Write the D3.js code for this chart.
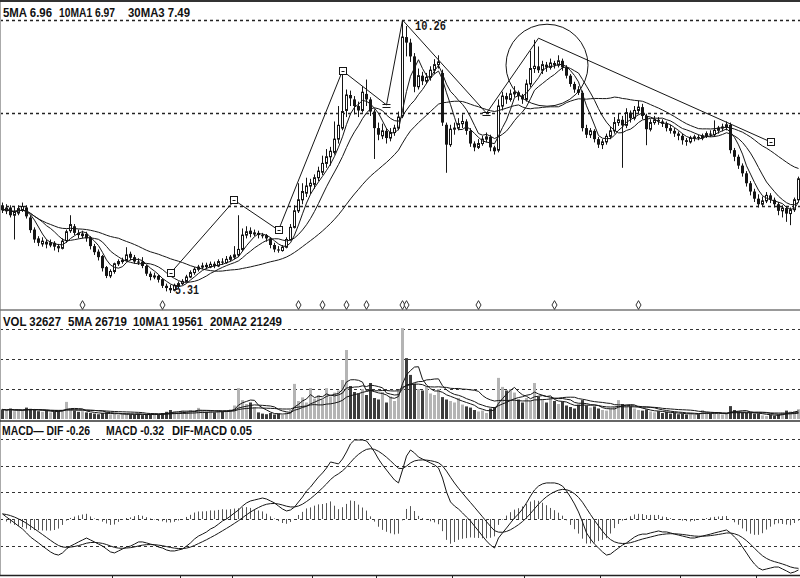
<!DOCTYPE html>
<html><head><meta charset="utf-8">
<script src="https://cdn.jsdelivr.net/npm/d3@7"></script>
<style>html,body{margin:0;padding:0;background:#fff;} svg{display:block;}</style>
</head><body>
<svg id="chart" width="800" height="578"></svg>
<script>
// ---------------- DATA ----------------
const opens = [
6.90,6.80,6.86,6.72,6.76,6.82,6.86,6.68,6.46,6.30,
6.20,6.24,6.18,6.22,6.16,6.12,6.26,6.44,6.52,6.40,
6.35,6.38,6.32,6.16,6.06,5.98,5.78,5.62,5.70,5.84,
5.88,5.90,6.02,5.96,5.88,5.88,5.80,5.66,5.60,5.62,
5.56,5.44,5.40,5.36,5.44,5.48,5.52,5.60,5.68,5.74,
5.78,5.82,5.78,5.84,5.80,5.88,5.86,5.92,5.96,6.00,
6.10,6.36,6.44,6.38,6.40,6.36,6.36,6.30,6.18,6.10,
6.08,6.14,6.28,6.50,6.80,7.00,7.12,7.25,7.28,7.40,
7.50,7.66,7.78,7.86,8.10,8.30,8.62,8.90,8.82,8.70,
8.62,8.92,8.82,8.60,8.30,8.16,8.25,8.12,8.22,8.30,
8.52,9.95,9.85,9.60,9.05,9.25,9.15,9.22,9.35,9.45,
9.30,8.36,8.00,8.28,8.30,8.38,8.42,8.25,8.02,7.95,
8.02,8.10,8.14,7.95,7.90,8.70,8.88,8.82,8.92,8.95,
8.88,8.82,9.10,9.38,9.42,9.35,9.45,9.40,9.48,9.44,
9.52,9.40,9.25,9.10,9.00,8.94,8.30,8.18,8.25,8.10,
8.00,8.05,8.15,8.25,8.40,8.45,8.35,8.58,8.48,8.62,
8.68,8.52,8.28,8.40,8.45,8.42,8.38,8.30,8.25,8.20,
8.16,8.08,8.05,8.12,8.14,8.12,8.16,8.20,8.18,8.26,
8.30,8.32,8.36,7.90,7.78,7.62,7.48,7.30,7.15,7.02,
6.92,6.98,7.08,7.00,6.92,6.80,6.85,6.75,6.82,7.00];
const highs = [
6.95,6.92,6.90,6.88,6.90,6.95,6.90,6.72,6.50,6.34,
6.32,6.28,6.28,6.25,6.20,6.30,6.46,6.72,6.56,6.46,
6.44,6.42,6.34,6.20,6.10,6.00,5.80,5.74,5.86,5.92,
5.95,6.14,6.06,6.00,5.94,5.96,5.82,5.70,5.68,5.64,
5.58,5.48,5.46,5.48,5.52,5.56,5.64,5.72,5.78,5.82,
5.86,5.86,5.88,5.88,5.92,5.94,5.98,6.00,6.16,6.72,
6.48,6.52,6.50,6.46,6.44,6.40,6.38,6.32,6.22,6.16,
6.18,6.32,6.56,6.90,7.30,7.30,7.40,7.38,7.46,7.60,
7.80,7.92,7.96,8.42,8.70,9.35,9.00,8.98,8.88,8.78,
9.06,9.18,8.86,8.64,8.40,8.38,8.30,8.30,8.36,8.60,
10.26,10.15,9.92,9.66,9.38,9.32,9.30,9.42,9.55,9.62,
9.36,8.40,8.36,8.40,8.48,8.55,8.46,8.30,8.06,8.10,
8.16,8.22,8.18,7.98,8.82,8.96,8.94,9.00,9.06,8.98,
8.92,9.18,9.70,9.90,9.78,9.52,9.50,9.56,9.52,9.62,
9.56,9.44,9.28,9.14,9.06,8.98,8.36,8.30,8.28,8.14,
8.10,8.20,8.32,8.50,8.56,8.52,8.66,8.62,8.70,8.80,
8.74,8.56,8.46,8.52,8.50,8.46,8.42,8.36,8.30,8.24,
8.20,8.12,8.16,8.18,8.18,8.20,8.24,8.26,8.44,8.34,
8.38,8.42,8.40,7.94,7.82,7.66,7.52,7.34,7.20,7.10,
7.06,7.14,7.12,7.04,6.96,6.90,6.88,6.86,7.04,7.42];
const lows = [
6.76,6.74,6.68,6.28,6.72,6.78,6.66,6.40,6.22,6.16,
6.15,6.12,6.14,6.08,6.05,6.10,6.22,6.40,6.36,6.30,
6.30,6.24,6.10,6.00,5.90,5.70,5.58,5.58,5.66,5.80,
5.84,5.88,5.90,5.84,5.82,5.76,5.62,5.54,5.56,5.50,
5.40,5.34,5.31,5.34,5.40,5.45,5.50,5.58,5.64,5.70,
5.74,5.74,5.76,5.76,5.78,5.82,5.84,5.88,5.92,5.96,
6.06,6.30,6.32,6.34,6.30,6.30,6.24,6.12,6.05,6.04,
6.06,6.12,6.26,6.48,6.76,6.92,7.05,7.10,7.20,7.34,
7.45,7.58,7.62,7.82,8.02,8.26,8.50,8.70,8.55,8.50,
8.58,8.70,8.52,7.74,8.08,8.10,8.02,8.06,8.16,8.26,
8.48,9.60,9.50,8.95,9.00,9.08,9.10,9.16,9.28,9.38,
8.34,7.49,7.96,8.18,8.26,8.30,8.18,7.96,7.88,7.92,
7.98,8.04,7.88,7.82,7.86,8.62,8.74,8.78,8.86,8.80,
8.74,8.78,9.04,9.30,9.30,9.28,9.32,9.36,9.38,9.40,
9.34,9.20,9.05,8.94,8.90,8.24,8.12,8.12,8.04,7.94,
7.92,8.00,8.10,8.20,8.34,7.58,8.30,8.40,8.44,8.56,
8.46,7.99,8.24,8.36,8.36,8.32,8.24,8.20,8.14,8.08,
8.00,7.98,8.02,8.06,8.08,8.08,8.12,8.14,8.14,8.20,
8.24,8.26,7.84,7.70,7.56,7.42,7.24,7.08,6.96,6.86,
6.88,6.94,6.94,6.86,6.72,6.68,6.60,6.54,6.78,6.96];
const closes = [
6.81,6.85,6.72,6.78,6.84,6.88,6.70,6.45,6.28,6.22,
6.25,6.19,6.22,6.15,6.12,6.25,6.42,6.55,6.40,6.36,
6.38,6.30,6.16,6.05,5.96,5.76,5.62,5.70,5.84,5.88,
5.90,6.00,5.95,5.88,5.86,5.80,5.66,5.60,5.62,5.55,
5.44,5.40,5.36,5.45,5.48,5.52,5.60,5.68,5.74,5.78,
5.80,5.78,5.83,5.80,5.88,5.86,5.92,5.96,6.00,6.10,
6.36,6.42,6.38,6.40,6.36,6.34,6.30,6.18,6.10,6.08,
6.14,6.28,6.50,6.80,7.00,7.15,7.25,7.30,7.40,7.52,
7.66,7.78,7.88,8.10,8.35,8.60,8.90,8.84,8.70,8.62,
8.95,8.82,8.60,8.30,8.18,8.25,8.12,8.22,8.30,8.50,
9.95,9.85,9.60,9.05,9.25,9.15,9.22,9.35,9.45,9.50,
8.40,8.00,8.28,8.30,8.38,8.42,8.25,8.02,7.95,8.02,
8.10,8.14,7.95,7.88,8.70,8.88,8.82,8.92,8.95,8.88,
8.82,9.10,9.38,9.42,9.35,9.45,9.40,9.48,9.44,9.52,
9.40,9.25,9.10,9.00,8.94,8.30,8.18,8.25,8.10,8.00,
8.05,8.15,8.25,8.40,8.45,8.35,8.58,8.48,8.62,8.68,
8.52,8.28,8.40,8.45,8.42,8.38,8.30,8.25,8.20,8.16,
8.08,8.05,8.12,8.14,8.12,8.16,8.20,8.18,8.26,8.30,
8.32,8.36,7.90,7.78,7.62,7.48,7.30,7.15,7.02,6.92,
6.98,7.08,7.00,6.92,6.80,6.85,6.75,6.82,7.00,7.38];
const volumes = [
32000,28000,35000,26000,30000,27000,38000,34000,30000,26000,
24000,28000,22000,25000,27000,30000,57000,34000,28000,24000,
26000,22000,20000,18000,16000,20000,22000,15000,17000,14000,
16000,18000,15000,14000,17000,13000,15000,16000,18000,14000,
20000,24000,30000,26000,22000,28000,25000,30000,27000,37000,
26000,24000,28000,22000,30000,25000,27000,32000,45000,103000,
63000,50000,55000,40000,22000,18000,16000,20000,15000,18000,
14000,22000,30000,117000,60000,72000,55000,103000,68000,80000,
65000,103000,75000,88000,95000,130000,230000,110000,90000,85000,
100000,80000,120000,70000,65000,90000,55000,75000,60000,95000,
303000,203000,147000,118000,100000,95000,107000,85000,80000,100000,
73000,65000,60000,55000,70000,48000,42000,38000,30000,25000,
28000,20000,35000,40000,137000,107000,95000,100000,88000,65000,
55000,70000,60000,120000,75000,65000,55000,70000,60000,50000,
58000,45000,40000,35000,48000,63000,45000,38000,42000,35000,
30000,28000,35000,40000,63000,50000,45000,42000,35000,30000,
28000,32000,25000,22000,26000,20000,24000,18000,20000,16000,
18000,15000,20000,14000,16000,30000,22000,18000,20000,17000,
15000,18000,43000,30000,25000,22000,20000,20000,18000,18370,
12000,10000,14000,11000,15015,22000,28000,25000,25968,32627];
// MACD DIF line
const difValues = [
0.026,0.010,-0.005,-0.020,-0.036,-0.051,-0.071,-0.092,-0.107,-0.122,
-0.138,-0.153,-0.168,-0.179,-0.184,-0.173,-0.153,-0.138,-0.128,-0.117,
-0.107,-0.097,-0.107,-0.117,-0.128,-0.138,-0.153,-0.168,-0.173,-0.163,
-0.153,-0.143,-0.138,-0.128,-0.117,-0.117,-0.122,-0.128,-0.133,-0.143,
-0.148,-0.158,-0.163,-0.163,-0.158,-0.153,-0.138,-0.122,-0.102,-0.087,
-0.077,-0.066,-0.051,-0.041,-0.026,-0.010,0.000,0.015,0.031,0.046,
0.066,0.082,0.092,0.097,0.102,0.107,0.102,0.092,0.082,0.066,
0.051,0.041,0.046,0.061,0.087,0.112,0.143,0.163,0.189,0.214,
0.235,0.260,0.291,0.286,0.281,0.306,0.342,0.383,0.403,0.403,
0.403,0.398,0.372,0.342,0.306,0.276,0.250,0.224,0.199,0.184,
0.250,0.321,0.352,0.337,0.316,0.306,0.296,0.286,0.276,0.260,
0.209,0.138,0.087,0.066,0.051,0.031,0.010,-0.010,-0.036,-0.061,
-0.087,-0.112,-0.133,-0.148,-0.097,-0.071,-0.046,-0.020,0.005,0.026,
0.051,0.082,0.117,0.148,0.168,0.179,0.184,0.184,0.184,0.179,
0.168,0.143,0.112,0.077,0.036,-0.015,-0.071,-0.102,-0.128,-0.148,
-0.168,-0.184,-0.179,-0.163,-0.148,-0.133,-0.122,-0.107,-0.092,-0.082,
-0.077,-0.077,-0.071,-0.066,-0.061,-0.066,-0.066,-0.071,-0.077,-0.082,
-0.087,-0.092,-0.097,-0.097,-0.092,-0.087,-0.082,-0.077,-0.071,-0.066,
-0.061,-0.056,-0.071,-0.092,-0.112,-0.143,-0.173,-0.204,-0.230,-0.250,
-0.260,-0.255,-0.250,-0.245,-0.245,-0.255,-0.265,-0.276,-0.270,-0.260];

// ZigZag turning points: [bar index, price]
const zigzagBars   = [42, 58, 69, 85, 96, 100, 121, 134, 192];
const zigzagPrices = [5.67, 6.99, 6.45, 9.34, 8.72, 10.26, 8.57, 9.93, 8.05];
const zigzagSquareMarks = [0, 1, 2, 3, 8];
const zigzagBarMarks    = [4, 6];
const circleMark = {bar: 136.25, price: 9.44};
const infoBars = [20, 40, 74, 80, 86, 91, 100, 101, 119, 138, 159];
const axisTickBars = [27.5, 44.5, 57.5, 77.5, 93.5, 112.5, 130.5, 149.5, 169.5, 188.5];
const priceGrid = [10.26, 8.57, 6.89];
const volGrid = [100000, 200000, 300000];
const macdGridSteps = [-1, 0, 1, 2, 3];
const highLabel = "10.26", lowLabel = "5.31";
const priceLegend = ["5MA 6.96", "10MA1 6.97", "30MA3 7.49"];
const volLegend = ["VOL 32627", "5MA 26719", "10MA1 19561", "20MA2 21249"];
const macdLegend = ["MACD\u2014 DIF -0.26", "MACD -0.32", "DIF-MACD 0.05"];

// ---------------- LAYOUT ----------------
const W = 800, H = 578;
const priceLegendPos = [[3, 49], [59, 56], [128, 62]];
const volLegendPos = [[3, 58], [68, 59], [133, 70], [210, 72]];
const macdLegendPos = [[2, 88], [106, 58], [172, 80]];
const MACD_ZERO = 519, MACD_STEP = 26.6;

const svg = d3.select('#chart');
const n = closes.length;
const idx = d3.range(n);
const x = d3.scaleLinear().domain([0, n - 1]).range([2, 798]);
const yP = d3.scaleLinear().domain([5.31, 10.26]).range([293, 20]);
const yV = d3.scaleLinear().domain([0, 300000]).range([419, 329]);
const yM = d3.scaleLinear().domain([0, 0.403]).range([MACD_ZERO, 440]);

function ma(arr, p) { return arr.map((v, i) => d3.mean(arr.slice(Math.max(0, i - p + 1), i + 1))); }
function ema(arr, p) { const k = 2 / (p + 1); const out = []; arr.forEach((v, i) => out.push(i ? out[i - 1] + k * (v - out[i - 1]) : v)); return out; }

const dea = ema(difValues, 9);
const hist = difValues.map((v, i) => v - dea[i]);

const INK = '#161616';

const defs = svg.append('defs');
defs.append('clipPath').attr('id', 'clipP').append('rect').attr('x', 0).attr('y', 2).attr('width', W).attr('height', 307);
defs.append('clipPath').attr('id', 'clipV').append('rect').attr('x', 0).attr('y', 311).attr('width', W).attr('height', 109);
defs.append('clipPath').attr('id', 'clipM').append('rect').attr('x', 0).attr('y', 422).attr('width', W).attr('height', 153);

// ---------- grids ----------
function hgrid(ys, col, sw) {
  svg.append('g').selectAll('line').data(ys).join('line')
    .attr('x1', 0).attr('x2', W)
    .attr('y1', d => Math.round(d) + 0.5).attr('y2', d => Math.round(d) + 0.5)
    .attr('stroke', col).attr('stroke-width', sw).attr('stroke-dasharray', '3,3');
}
hgrid(priceGrid.map(yP), '#222', 1.3);
hgrid(volGrid.map(yV), '#333', 1.2);
hgrid(macdGridSteps.map(s => MACD_ZERO - s * MACD_STEP), '#333', 1.2);

// ---------- frame ----------
svg.append('rect').attr('x', 0).attr('y', 0).attr('width', W).attr('height', 2).attr('fill', '#333');
svg.append('line').attr('x1', 0.5).attr('x2', 0.5).attr('y1', 2).attr('y2', 575).attr('stroke', '#aaa');
svg.append('line').attr('x1', 0).attr('x2', W).attr('y1', 310).attr('y2', 310).attr('stroke', '#777').attr('stroke-width', 1.6);
svg.append('line').attr('x1', 0).attr('x2', W).attr('y1', 421).attr('y2', 421).attr('stroke', '#333').attr('stroke-width', 1.6);
svg.append('line').attr('x1', 0).attr('x2', W).attr('y1', 575.5).attr('y2', 575.5).attr('stroke', '#222').attr('stroke-width', 1.3);
svg.append('g').selectAll('line').data(axisTickBars).join('line')
  .attr('x1', d => Math.round(x(d)) + 0.5).attr('x2', d => Math.round(x(d)) + 0.5)
  .attr('y1', 575).attr('y2', 578).attr('stroke', '#222');

// ---------- price panel ----------
const gP = svg.append('g').attr('clip-path', 'url(#clipP)');
gP.selectAll('line.wick').data(idx).join('line').attr('class', 'wick')
  .attr('x1', i => x(i) + 0.5).attr('x2', i => x(i) + 0.5)
  .attr('y1', i => yP(highs[i])).attr('y2', i => yP(lows[i]))
  .attr('stroke', INK).attr('stroke-width', 1);
gP.selectAll('rect.body').data(idx).join('rect').attr('class', 'body')
  .attr('x', i => closes[i] >= opens[i] ? x(i) - 0.5 : x(i) - 1)
  .attr('width', i => closes[i] >= opens[i] ? 2 : 3)
  .attr('y', i => yP(Math.max(opens[i], closes[i])))
  .attr('height', i => Math.max(1, Math.abs(yP(opens[i]) - yP(closes[i]))))
  .attr('fill', i => closes[i] >= opens[i] ? '#fff' : INK)
  .attr('stroke', i => closes[i] >= opens[i] ? INK : 'none')
  .attr('stroke-width', 1);

const priceLine = d3.line().x((d, i) => x(i) + 0.5).y(d => yP(d));
[5, 10, 30].forEach(p => {
  gP.append('path').attr('d', priceLine(ma(closes, p))).attr('fill', 'none')
    .attr('stroke', INK).attr('stroke-width', 1);
});

// zigzag
const zz = zigzagBars.map((b, k) => [x(b) + 0.5, yP(zigzagPrices[k])]);
gP.append('path').attr('d', d3.line()(zz)).attr('fill', 'none').attr('stroke', INK).attr('stroke-width', 1);
zigzagSquareMarks.forEach(k => {
  const [cx, cy] = zz[k];
  gP.append('rect').attr('x', Math.round(cx) - 3.5).attr('y', Math.round(cy) - 3.5).attr('width', 7).attr('height', 7)
    .attr('fill', '#fff').attr('stroke', INK).attr('stroke-width', 1);
  gP.append('line').attr('x1', Math.round(cx) - 1.5).attr('x2', Math.round(cx) + 1.5)
    .attr('y1', Math.round(cy) + 0.5).attr('y2', Math.round(cy) + 0.5).attr('stroke', INK);
});
zigzagBarMarks.forEach(k => {
  const [cx, cy] = zz[k];
  [-1, 2].forEach(dy => gP.append('line').attr('x1', cx - 4).attr('x2', cx + 4)
    .attr('y1', Math.round(cy) + dy + 0.5).attr('y2', Math.round(cy) + dy + 0.5).attr('stroke', INK));
});
gP.append('circle').attr('cx', x(circleMark.bar)).attr('cy', yP(circleMark.price)).attr('r', 41)
  .attr('fill', 'none').attr('stroke', INK).attr('stroke-width', 1);

// high / low labels
const hiIdx = d3.maxIndex(highs), loIdx = d3.minIndex(lows);
svg.append('text').attr('x', x(hiIdx) + 13).attr('y', yP(highs[hiIdx]) + 10)
  .attr('font-family', 'Liberation Mono, DejaVu Sans Mono, monospace').attr('font-weight', 'bold')
  .attr('font-size', 12.5).attr('textLength', 31).attr('lengthAdjust', 'spacingAndGlyphs')
  .attr('fill', INK).text(highLabel);
svg.append('text').attr('x', x(loIdx) + 5).attr('y', yP(lows[loIdx]) + 1)
  .attr('font-family', 'Liberation Mono, DejaVu Sans Mono, monospace').attr('font-weight', 'bold')
  .attr('font-size', 13).attr('textLength', 24).attr('lengthAdjust', 'spacingAndGlyphs')
  .attr('fill', INK).text(lowLabel);

// info diamonds
svg.append('g').selectAll('path').data(infoBars).join('path')
  .attr('transform', d => `translate(${x(d) + 0.5},305)`)
  .attr('d', d3.symbol(d3.symbolDiamond, 22))
  .attr('fill', '#fff').attr('stroke', '#333').attr('stroke-width', 1);

// ---------- volume panel ----------
const gV = svg.append('g').attr('clip-path', 'url(#clipV)');
gV.selectAll('rect').data(idx).join('rect')
  .attr('x', i => x(i) - 1).attr('width', 3)
  .attr('y', i => yV(volumes[i])).attr('height', i => Math.max(1, yV(0) - yV(volumes[i])))
  .attr('fill', i => closes[i] >= opens[i] ? '#b4b4b4' : '#3c3c3c');
const volLine = d3.line().x((d, i) => x(i) + 0.5).y(d => yV(d));
[5, 10, 20].forEach(p => {
  gV.append('path').attr('d', volLine(ma(volumes, p))).attr('fill', 'none')
    .attr('stroke', INK).attr('stroke-width', 1);
});

// ---------- MACD panel ----------
const gM = svg.append('g').attr('clip-path', 'url(#clipM)');
gM.selectAll('line').data(idx).join('line')
  .attr('x1', i => x(i) + 0.5).attr('x2', i => x(i) + 0.5)
  .attr('y1', yM(0)).attr('y2', i => yM(hist[i]))
  .attr('stroke', '#555').attr('stroke-width', 1);
const macdLine = d3.line().x((d, i) => x(i) + 0.5).y(d => yM(d));
gM.append('path').attr('d', macdLine(difValues)).attr('fill', 'none').attr('stroke', INK).attr('stroke-width', 1);
gM.append('path').attr('d', macdLine(dea)).attr('fill', 'none').attr('stroke', INK).attr('stroke-width', 1);

// ---------- legends ----------
function legend(texts, pos, baseline) {
  texts.forEach((t, k) => {
    svg.append('text').attr('x', pos[k][0]).attr('y', baseline)
      .attr('font-family', 'Liberation Sans, Arial, sans-serif').attr('font-weight', 'bold')
      .attr('font-size', 13).attr('textLength', pos[k][1]).attr('lengthAdjust', 'spacingAndGlyphs')
      .attr('fill', '#111').text(t);
  });
}
legend(priceLegend, priceLegendPos, 16.5);
legend(volLegend, volLegendPos, 325.5);
legend(macdLegend, macdLegendPos, 435);
</script>
</body></html>
